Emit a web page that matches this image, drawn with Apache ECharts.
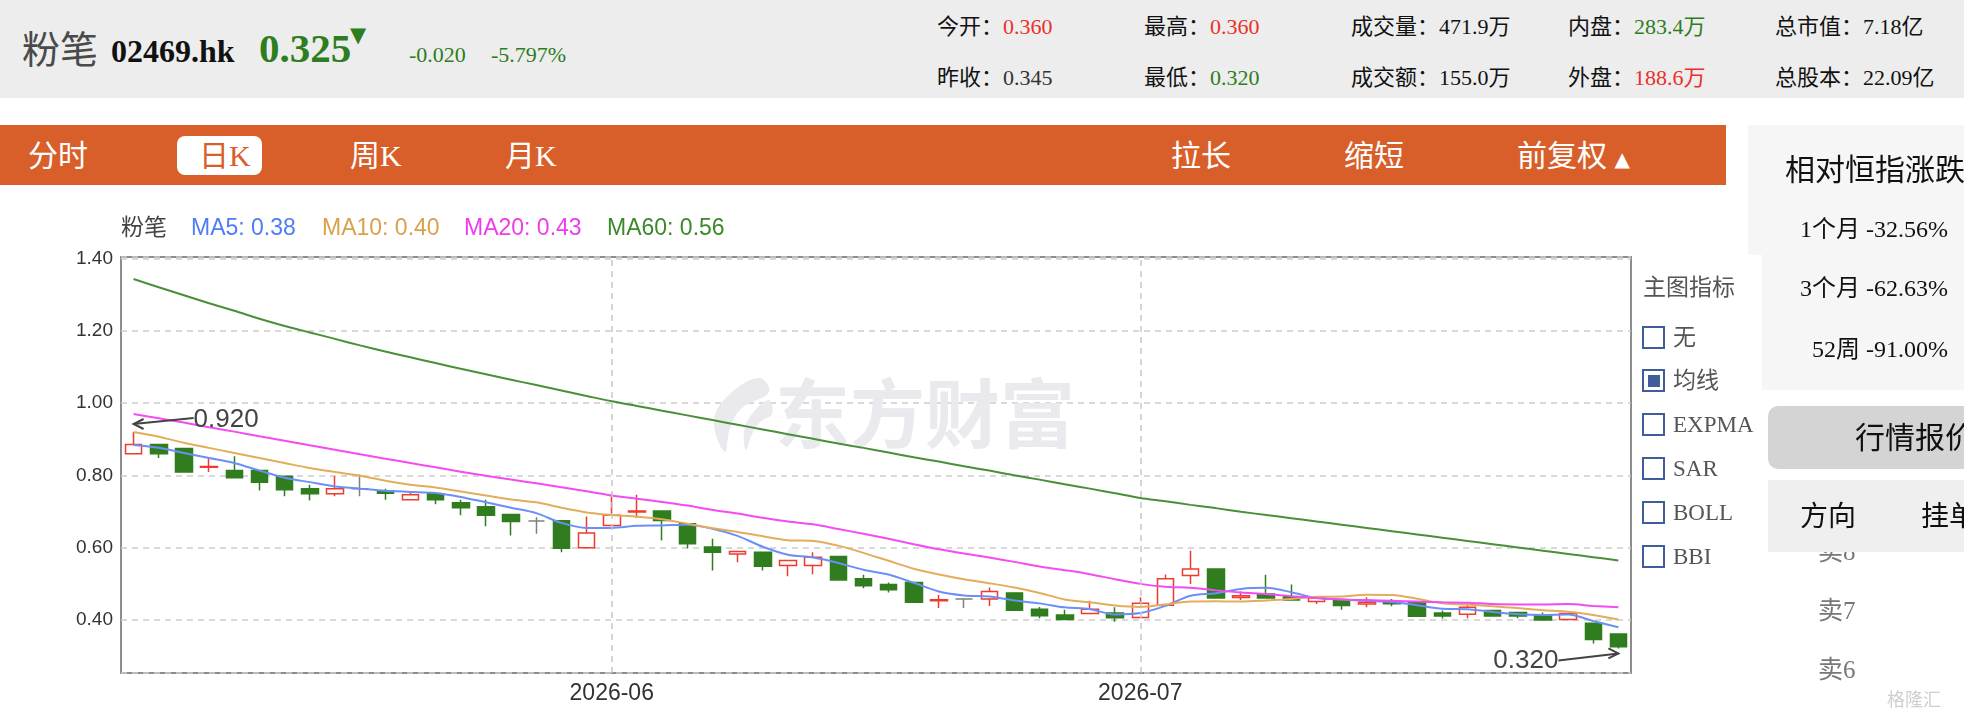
<!DOCTYPE html>
<html>
<head>
<meta charset="utf-8">
<script src="https://cdn.jsdelivr.net/npm/echarts@6.0.0/dist/echarts.min.js"></script>
<style>
  html, body { margin: 0; padding: 0; width: 1964px; height: 716px; overflow: hidden; background: #fff; }
  #main { position: absolute; left: 0; top: 0; width: 1964px; height: 716px; z-index: 1; }
  .t { position: absolute; white-space: nowrap; line-height: 1; z-index: 3;
       font-family: "Liberation Serif", "Noto Sans CJK SC", serif; }
  .box { position: absolute; z-index: 2; }
  .red { color: #e8312a; }
  .green { color: #2e7d1e; }
  .chk { position: absolute; z-index: 3; width: 19px; height: 19px; border: 2px solid #3f5d9b; background: #fff; }
  .chk i { position: absolute; left: 3.5px; top: 3.5px; width: 12px; height: 12px; background: #3f5d9b; }
</style>
</head>
<body>
<div id="main"></div>

<!-- 顶部行情 -->
<div class="box" style="left:0;top:0;width:1964px;height:98px;background:#ededed;"></div>
<div class="t" style="left:22px;top:31px;font-size:38px;color:#4a4a4a;">粉笔</div>
<div class="t" style="left:111px;top:35px;font-size:32px;font-weight:bold;color:#111;">02469.hk</div>
<div class="t green" style="left:259px;top:28px;font-size:41px;font-weight:bold;">0.325</div>
<div class="t green" style="left:350px;top:25px;font-size:21px;font-family:'DejaVu Sans';">▼</div>
<div class="t green" style="left:409px;top:44px;font-size:22px;">-0.020</div>
<div class="t green" style="left:491px;top:44px;font-size:22px;">-5.797%</div>

<div class="t" style="left:937px;top:16px;font-size:22px;color:#111;">今开：<span class="red">0.360</span></div>
<div class="t" style="left:1144px;top:16px;font-size:22px;color:#111;">最高：<span class="red">0.360</span></div>
<div class="t" style="left:1351px;top:16px;font-size:22px;color:#111;">成交量：471.9万</div>
<div class="t" style="left:1568px;top:16px;font-size:22px;color:#111;">内盘：<span class="green">283.4万</span></div>
<div class="t" style="left:1775px;top:16px;font-size:22px;color:#111;">总市值：7.18亿</div>
<div class="t" style="left:937px;top:67px;font-size:22px;color:#111;">昨收：<span style="color:#333">0.345</span></div>
<div class="t" style="left:1144px;top:67px;font-size:22px;color:#111;">最低：<span class="green">0.320</span></div>
<div class="t" style="left:1351px;top:67px;font-size:22px;color:#111;">成交额：155.0万</div>
<div class="t" style="left:1568px;top:67px;font-size:22px;color:#111;">外盘：<span class="red">188.6万</span></div>
<div class="t" style="left:1775px;top:67px;font-size:22px;color:#111;">总股本：22.09亿</div>

<!-- 工具栏 -->
<div class="box" style="left:0;top:125px;width:1726px;height:60px;background:#d95f2a;"></div>
<div class="box" style="left:177px;top:136px;width:85px;height:39px;background:#fff;border-radius:8px;"></div>
<div class="t" style="left:28px;top:141px;font-size:30px;color:#fff;">分时</div>
<div class="t" style="left:199px;top:141px;font-size:30px;color:#d95f2a;">日K</div>
<div class="t" style="left:350px;top:141px;font-size:30px;color:#fff;">周K</div>
<div class="t" style="left:505px;top:141px;font-size:30px;color:#fff;">月K</div>
<div class="t" style="left:1171px;top:141px;font-size:30px;color:#fff;">拉长</div>
<div class="t" style="left:1344px;top:141px;font-size:30px;color:#fff;">缩短</div>
<div class="t" style="left:1517px;top:141px;font-size:30px;color:#fff;">前复权 <span style="font-size:20px;font-family:'DejaVu Sans';">▲</span></div>

<!-- 主图指标 -->
<div class="t" style="left:1643px;top:276px;font-size:23px;color:#555;">主图指标</div>
<div class="chk" style="left:1642px;top:326px;"></div>
<div class="t" style="left:1673px;top:326px;font-size:23px;color:#555;">无</div>
<div class="chk" style="left:1642px;top:369px;"><i></i></div>
<div class="t" style="left:1673px;top:369px;font-size:23px;color:#555;">均线</div>
<div class="chk" style="left:1642px;top:413px;"></div>
<div class="t" style="left:1673px;top:413px;font-size:23px;color:#555;">EXPMA</div>
<div class="chk" style="left:1642px;top:457px;"></div>
<div class="t" style="left:1673px;top:457px;font-size:23px;color:#555;">SAR</div>
<div class="chk" style="left:1642px;top:501px;"></div>
<div class="t" style="left:1673px;top:501px;font-size:23px;color:#555;">BOLL</div>
<div class="chk" style="left:1642px;top:545px;"></div>
<div class="t" style="left:1673px;top:545px;font-size:23px;color:#555;">BBI</div>

<!-- 右侧面板 -->
<div class="box" style="left:1748px;top:125px;width:216px;height:130px;background:#f6f6f6;"></div>
<div class="box" style="left:1762px;top:255px;width:202px;height:135px;background:#f6f6f6;"></div>
<div class="t" style="left:1785px;top:155px;font-size:30px;color:#111;">相对恒指涨跌</div>
<div class="t" style="left:1800px;top:217px;font-size:24px;color:#111;">1个月 -32.56%</div>
<div class="t" style="left:1800px;top:276px;font-size:24px;color:#111;">3个月 -62.63%</div>
<div class="t" style="left:1812px;top:337px;font-size:24px;color:#111;">52周 -91.00%</div>

<div class="box" style="left:1768px;top:406px;width:196px;height:63px;background:#d4d4d4;border-radius:10px 0 0 10px;"></div>
<div class="t" style="left:1855px;top:423px;font-size:30px;color:#111;">行情报价</div>
<div class="t" style="left:1818px;top:539px;font-size:25px;color:#777;z-index:2;">卖8</div>
<div class="box" style="left:1768px;top:480px;width:196px;height:72px;background:#efefef;z-index:3;"></div>
<div class="t" style="left:1800px;top:503px;font-size:28px;color:#111;z-index:4;">方向</div>
<div class="t" style="left:1921px;top:503px;font-size:28px;color:#111;z-index:4;">挂单</div>
<div class="t" style="left:1818px;top:598px;font-size:25px;color:#777;">卖7</div>
<div class="t" style="left:1818px;top:657px;font-size:25px;color:#777;">卖6</div>
<div class="t" style="left:1887px;top:689px;font-size:18px;color:#cfcfcf;font-family:'Noto Sans CJK SC';">格隆汇</div>

<script>
// 交易日
const dates = [
  '2026-05-04', '2026-05-05', '2026-05-06', '2026-05-07', '2026-05-08',
  '2026-05-11', '2026-05-12', '2026-05-13', '2026-05-14', '2026-05-15',
  '2026-05-18', '2026-05-19', '2026-05-20', '2026-05-21', '2026-05-22',
  '2026-05-26', '2026-05-27', '2026-05-28', '2026-05-29',
  '2026-06-01', '2026-06-02', '2026-06-03', '2026-06-04', '2026-06-05',
  '2026-06-08', '2026-06-09', '2026-06-10', '2026-06-11', '2026-06-12',
  '2026-06-15', '2026-06-16', '2026-06-17', '2026-06-18',
  '2026-06-22', '2026-06-23', '2026-06-24', '2026-06-25', '2026-06-26',
  '2026-06-29', '2026-06-30',
  '2026-07-02', '2026-07-03', '2026-07-06', '2026-07-07', '2026-07-08',
  '2026-07-09', '2026-07-10', '2026-07-13', '2026-07-14', '2026-07-15',
  '2026-07-16', '2026-07-17', '2026-07-20', '2026-07-21', '2026-07-22',
  '2026-07-23', '2026-07-24', '2026-07-27', '2026-07-28', '2026-07-29'
]

const opens = [
  0.860, 0.885, 0.874, 0.822, 0.813, 0.813, 0.797, 0.763, 0.749, 0.763,
  0.756, 0.732, 0.749, 0.724, 0.713, 0.691, 0.673, 0.674, 0.599, 0.661,
  0.698, 0.701, 0.666, 0.601, 0.582, 0.587, 0.550, 0.550, 0.575, 0.513,
  0.497, 0.503, 0.452, 0.457, 0.457, 0.474, 0.429, 0.413, 0.417, 0.418,
  0.406, 0.440, 0.522, 0.540, 0.461, 0.471, 0.463, 0.450, 0.454, 0.443,
  0.448, 0.448, 0.418, 0.415, 0.425, 0.420, 0.413, 0.400, 0.390, 0.360
]
const closes = [
  0.885, 0.860, 0.809, 0.824, 0.793, 0.781, 0.760, 0.749, 0.763, 0.763,
  0.750, 0.746, 0.732, 0.710, 0.689, 0.672, 0.673, 0.598, 0.640, 0.689,
  0.701, 0.675, 0.610, 0.587, 0.589, 0.548, 0.564, 0.573, 0.510, 0.494,
  0.483, 0.448, 0.455, 0.457, 0.478, 0.426, 0.411, 0.400, 0.429, 0.405,
  0.445, 0.513, 0.540, 0.460, 0.466, 0.460, 0.454, 0.460, 0.439, 0.448,
  0.444, 0.409, 0.410, 0.434, 0.410, 0.410, 0.399, 0.417, 0.345, 0.325
]
const lows = [
  0.860, 0.848, 0.809, 0.809, 0.793, 0.758, 0.742, 0.730, 0.742, 0.742,
  0.732, 0.732, 0.720, 0.689, 0.659, 0.633, 0.638, 0.587, 0.599, 0.661,
  0.682, 0.619, 0.598, 0.536, 0.559, 0.536, 0.520, 0.526, 0.510, 0.487,
  0.475, 0.448, 0.432, 0.432, 0.438, 0.426, 0.404, 0.400, 0.417, 0.394,
  0.406, 0.440, 0.499, 0.460, 0.454, 0.460, 0.454, 0.443, 0.427, 0.434,
  0.437, 0.409, 0.403, 0.404, 0.410, 0.404, 0.399, 0.400, 0.334, 0.320
]
const highs = [
  0.920, 0.885, 0.874, 0.846, 0.853, 0.813, 0.797, 0.774, 0.797, 0.802,
  0.763, 0.752, 0.754, 0.732, 0.732, 0.691, 0.684, 0.674, 0.686, 0.749,
  0.746, 0.701, 0.666, 0.624, 0.589, 0.587, 0.564, 0.587, 0.575, 0.524,
  0.503, 0.503, 0.468, 0.457, 0.489, 0.474, 0.435, 0.427, 0.452, 0.434,
  0.462, 0.525, 0.591, 0.540, 0.478, 0.524, 0.497, 0.460, 0.454, 0.462,
  0.457, 0.448, 0.425, 0.440, 0.425, 0.420, 0.420, 0.417, 0.390, 0.360
]

const ma5 = [
  0.884, 0.876, 0.862, 0.848, 0.834, 0.813, 0.793, 0.781, 0.769, 0.763,
  0.757, 0.754, 0.751, 0.740, 0.725, 0.710, 0.695, 0.668, 0.654, 0.654,
  0.660, 0.661, 0.663, 0.652, 0.632, 0.602, 0.580, 0.572, 0.557, 0.538,
  0.525, 0.502, 0.478, 0.467, 0.464, 0.453, 0.445, 0.434, 0.429, 0.414,
  0.418, 0.438, 0.466, 0.473, 0.485, 0.488, 0.476, 0.460, 0.456, 0.452,
  0.449, 0.440, 0.430, 0.429, 0.421, 0.415, 0.413, 0.414, 0.396, 0.379
]
const ma10 = [
  0.920, 0.907, 0.890, 0.876, 0.862, 0.848, 0.834, 0.820, 0.809, 0.799,
  0.785, 0.774, 0.766, 0.755, 0.744, 0.733, 0.725, 0.710, 0.697, 0.690,
  0.685, 0.678, 0.666, 0.653, 0.643, 0.631, 0.620, 0.618, 0.605, 0.585,
  0.563, 0.541, 0.525, 0.512, 0.501, 0.489, 0.474, 0.456, 0.448, 0.439,
  0.435, 0.442, 0.450, 0.451, 0.450, 0.453, 0.457, 0.463, 0.464, 0.469,
  0.468, 0.458, 0.445, 0.442, 0.437, 0.432, 0.426, 0.422, 0.413, 0.400
]
const ma20 = [
  0.970, 0.958, 0.946, 0.933, 0.921, 0.908, 0.896, 0.883, 0.871, 0.858,
  0.846, 0.834, 0.822, 0.810, 0.799, 0.788, 0.778, 0.767, 0.756, 0.744,
  0.735, 0.726, 0.716, 0.704, 0.694, 0.682, 0.672, 0.664, 0.651, 0.638,
  0.624, 0.609, 0.595, 0.583, 0.572, 0.560, 0.547, 0.537, 0.526, 0.512,
  0.499, 0.491, 0.488, 0.481, 0.475, 0.471, 0.465, 0.460, 0.456, 0.454,
  0.452, 0.450, 0.448, 0.447, 0.443, 0.442, 0.442, 0.443, 0.438, 0.434
]
const ma60 = [
  1.344, 1.321, 1.299, 1.277, 1.256, 1.234, 1.214, 1.196, 1.178, 1.160,
  1.143, 1.127, 1.111, 1.095, 1.080, 1.065, 1.050, 1.035, 1.020, 1.005,
  0.992, 0.979, 0.966, 0.953, 0.940, 0.927, 0.914, 0.901, 0.888, 0.876,
  0.863, 0.850, 0.838, 0.825, 0.813, 0.800, 0.788, 0.775, 0.763, 0.750,
  0.737, 0.728, 0.718, 0.709, 0.699, 0.690, 0.681, 0.672, 0.663, 0.654,
  0.645, 0.636, 0.627, 0.618, 0.609, 0.600, 0.591, 0.582, 0.573, 0.564
]

const UP = '#f03a2e'
const DOWN = '#2f7d1f'
const lineDefs = [
  { name: 'MA5', data: ma5, color: '#6b8ff6', text: '#4d7cf4' },
  { name: 'MA10', data: ma10, color: '#e3ad5c', text: '#d9a14a' },
  { name: 'MA20', data: ma20, color: '#f24cf2', text: '#ee3bee' },
  { name: 'MA60', data: ma60, color: '#4a8f38', text: '#3a8a2a' }
]

const isMonthStart = (i) => i > 0 && dates[i].slice(0, 7) !== dates[i - 1].slice(0, 7)

var chart = echarts.init(document.getElementById('main'))

var option = {
  animation: false,
  grid: {
    left: 121, right: 333, top: 257, bottom: 43,
    show: true, borderColor: '#8c8c8c', borderWidth: 2
  },
  xAxis: {
    type: 'category',
    data: dates,
    boundaryGap: true,
    axisLine: { show: false },
    axisTick: { show: false },
    splitLine: { show: false },
    axisLabel: {
      interval: (i) => isMonthStart(i),
      formatter: (v) => v.slice(0, 7),
      fontSize: 23, color: '#333', margin: 9,
      fontFamily: 'Liberation Sans'
    }
  },
  yAxis: {
    type: 'value',
    min: 0.252,
    max: 1.405,
    splitNumber: 5,
    axisLine: { show: false },
    axisTick: { show: false },
    axisLabel: {
      showMinLabel: false, showMaxLabel: false,
      formatter: (v) => v.toFixed(2),
      fontSize: 19, color: '#333', margin: 8,
      fontFamily: 'Liberation Sans'
    },
    splitLine: { lineStyle: { type: [6, 5], color: '#cccccc', width: 1.5 } }
  },
  series: [
    {
      name: '粉笔',
      type: 'candlestick',
      data: opens.map((o, i) => [o, closes[i], lows[i], highs[i]]),
      barWidth: 17,
      z: 2,
      itemStyle: {
        color: '#ffffff', color0: DOWN,
        borderColor: UP, borderColor0: DOWN,
        borderColorDoji: '#808080',
        borderWidth: 1.5
      },
      markLine: {
        silent: true,
        symbol: ['none', 'none'],
        label: { show: false },
        lineStyle: { type: [6, 5], color: '#c8c8c8', width: 1.5 },
        data: dates.filter((d, i) => isMonthStart(i)).map(d => ({ xAxis: d }))
      }
    }
  ].concat(lineDefs.map(l => ({
    name: l.name,
    type: 'line',
    data: l.data,
    symbol: 'none',
    smooth: 0.3,
    z: 3,
    lineStyle: { width: 2, color: l.color }
  })))
}

chart.setOption(option)

// 图例、水印、最高最低标注
const last = dates.length - 1
const hi = chart.convertToPixel({ gridIndex: 0 }, [0, highs[0]])
const lo = chart.convertToPixel({ gridIndex: 0 }, [last, lows[last]])
const legendX = [121, 191, 322, 464, 607]
const legendItems = [{ text: '粉笔', fill: '#444' }].concat(lineDefs.map(l => ({
  text: l.name + ': ' + l.data[last].toFixed(2), fill: l.text
})))

const graphics = [
  {
    type: 'text', x: 775, y: 376, z: 0, silent: true,
    style: { text: '东方财富', fontSize: 75, fontWeight: 'bold', fill: '#e9e9ee',
             fontFamily: 'Noto Sans CJK SC' }
  },
  {
    type: 'polygon', z: 0, silent: true,
    shape: { points: [[759, 378], [730, 394], [714, 420], [725, 452], [730, 428], [742, 408], [769, 392]], smooth: 0.4 },
    style: { fill: '#e9e9ee' }
  },
  {
    type: 'polygon', z: 0, silent: true,
    shape: { points: [[769, 400], [752, 414], [744, 432], [746, 450], [752, 434], [760, 422], [772, 414]], smooth: 0.4 },
    style: { fill: '#e9e9ee' }
  }
]
legendItems.forEach((it, k) => {
  graphics.push({
    type: 'text', x: legendX[k], y: 229, z: 10,
    style: { text: it.text, fill: it.fill, fontSize: 23, verticalAlign: 'middle',
             fontFamily: 'Liberation Sans, Noto Sans CJK SC' }
  })
})

// 0.920
const tipH = [hi[0], hi[1] - 8]
const tailH = [hi[0] + 60, hi[1] - 14]
graphics.push(
  { type: 'line', z: 10, shape: { x1: tailH[0], y1: tailH[1], x2: tipH[0], y2: tipH[1] }, style: { stroke: '#444', lineWidth: 2 } },
  { type: 'polyline', z: 10, shape: { points: [[tipH[0] + 10, tipH[1] - 5], tipH, [tipH[0] + 10, tipH[1] + 5]] }, style: { stroke: '#444', lineWidth: 2, fill: null } },
  { type: 'text', z: 10, x: tailH[0], y: tailH[1] + 2,
    style: { text: highs[0].toFixed(3), fill: '#444', fontSize: 26, verticalAlign: 'middle', fontFamily: 'Liberation Sans' } }
)
// 0.320
const tipL = [lo[0], lo[1] + 5]
const tailL = [lo[0] - 60, lo[1] + 12]
graphics.push(
  { type: 'line', z: 10, shape: { x1: tailL[0], y1: tailL[1], x2: tipL[0], y2: tipL[1] }, style: { stroke: '#444', lineWidth: 2 } },
  { type: 'polyline', z: 10, shape: { points: [[tipL[0] - 10, tipL[1] - 5], tipL, [tipL[0] - 10, tipL[1] + 5]] }, style: { stroke: '#444', lineWidth: 2, fill: null } },
  { type: 'text', z: 10, x: tailL[0], y: tailL[1],
    style: { text: lows[last].toFixed(3), fill: '#444', fontSize: 26, align: 'right', verticalAlign: 'middle', fontFamily: 'Liberation Sans' } }
)

chart.setOption({ graphic: graphics })

window.addEventListener('resize', () => {
  chart.resize()
})
</script>
</body>
</html>
